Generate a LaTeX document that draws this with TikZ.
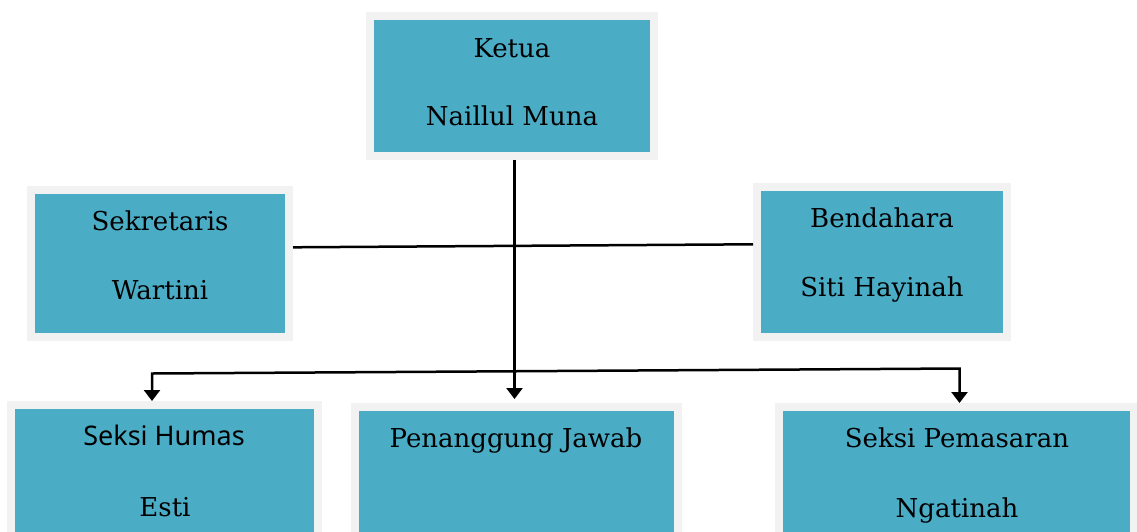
\documentclass[tikz,border=0pt]{standalone}
\usepackage{fontspec}
\setmainfont{DejaVu Serif}
\newfontfamily\sansf{Noto Sans}
\usetikzlibrary{arrows.meta}
\definecolor{boxteal}{RGB}{75,172,198}
\definecolor{boxgray}{RGB}{242,242,242}
\tikzset{
  orgbox/.style={draw=boxgray, line width=8pt, fill=boxteal, inner sep=0pt},
  txt/.style={anchor=base, inner sep=0pt, font=\fontsize{26}{30}\selectfont},
  stxt/.style={anchor=base, inner sep=0pt, font=\sansf\fontsize{27}{32}\selectfont},
  conn/.style={line width=2.5pt, black},
  tip/.style={-{Triangle[length=11pt,width=16pt]}},
}
\begin{document}
\begin{tikzpicture}[x=1pt,y=-1pt]
\clip (0,0) rectangle (1137,531);
\fill[white] (0,0) rectangle (1137,531);
% boxes
\node[orgbox, minimum width=284pt, minimum height=140pt] (ketua) at (512,86) {};
\node[orgbox, minimum width=258pt, minimum height=147pt] (sek) at (160,263.5) {};
\node[orgbox, minimum width=250pt, minimum height=150pt] (bend) at (882,262) {};
\node[orgbox, minimum width=307pt, minimum height=195pt] (humas) at (164.5,502.5) {};
\node[orgbox, minimum width=323pt, minimum height=195pt] (pj) at (516.5,504.5) {};
\node[orgbox, minimum width=355pt, minimum height=195pt] (pem) at (956.5,504.5) {};
% texts
\node[txt] (t1) at (512,57) {Ketua};
\node[txt] (t2) at (512,125) {Naillul Muna};
\node[txt] (t3) at (160,230) {Sekretaris};
\node[txt] (t4) at (160,299) {Wartini};
\node[txt] (t5) at (882,227) {Bendahara};
\node[txt] (t6) at (882,296) {Siti Hayinah};
\node[stxt] (t7) at (164,445) {Seksi Humas};
\node[txt] (t8) at (165,516) {Esti};
\node[txt] (t9) at (516,447) {Penanggung Jawab};
\node[txt] (t10) at (957,447) {Seksi Pemasaran};
\node[txt] (t11) at (957,517) {Ngatinah};
% connectors
\draw[conn] (sek.east |- 0,247.3) -- (bend.west |- 0,244.3);
\draw[conn, tip, shorten >=4pt] ([xshift=2.5pt]ketua.south) -- ([xshift=-2pt]pj.north);
\coordinate (bl) at (152,373.5);
\coordinate (br) at (959.5,368.5);
\draw[conn, {Triangle[length=11pt,width=16pt]}-{Triangle[length=11pt,width=16pt]}, line join=miter]
  (bl |- humas.north) -- (bl) -- (br) -- (br |- pem.north);
\end{tikzpicture}
\end{document}
